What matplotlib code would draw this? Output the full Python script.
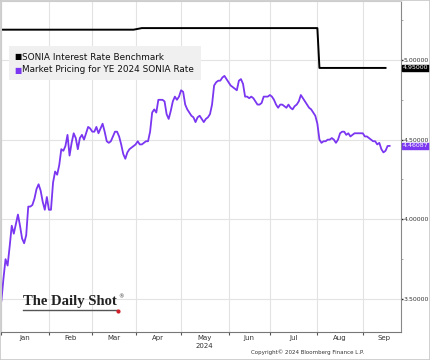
import numpy as np
import pandas as pd
import matplotlib.pyplot as plt
import matplotlib.transforms as mtransforms
from matplotlib.patches import Rectangle

# market pricing for YE 2024 SONIA, one value per weekday from 2 Jan 2024
pricing_start = '2024-01-01'
pricing_ye2024 = [
    3.49, 3.63, 3.75, 3.71, 3.83, 3.96, 3.91, 3.97, 4.03, 3.96,
    3.88, 3.85, 3.90, 4.08, 4.08, 4.09, 4.13, 4.19, 4.22, 4.18,
    4.11, 4.06, 4.14, 4.06, 4.06, 4.23, 4.30, 4.28, 4.34, 4.44,
    4.43, 4.46, 4.53, 4.40, 4.48, 4.54, 4.51, 4.44, 4.51, 4.53,
    4.50, 4.54, 4.58, 4.57, 4.55, 4.55, 4.58, 4.54, 4.57, 4.60,
    4.55, 4.49, 4.48, 4.49, 4.52, 4.55, 4.55, 4.52, 4.47, 4.41,
    4.38, 4.42, 4.44, 4.45, 4.46, 4.47, 4.49, 4.47, 4.47, 4.48,
    4.49, 4.49, 4.55, 4.67, 4.69, 4.67, 4.75, 4.75, 4.75, 4.74,
    4.66, 4.63, 4.68, 4.74, 4.77, 4.75, 4.77, 4.81, 4.80, 4.72,
    4.69, 4.67, 4.65, 4.64, 4.61, 4.64, 4.65, 4.63, 4.61, 4.63,
    4.64, 4.66, 4.72, 4.84, 4.86, 4.87, 4.87, 4.89, 4.90, 4.88,
    4.86, 4.84, 4.83, 4.82, 4.81, 4.87, 4.88, 4.85, 4.77, 4.77,
    4.76, 4.77, 4.76, 4.74, 4.72, 4.72, 4.73, 4.77, 4.77, 4.77,
    4.78, 4.77, 4.75, 4.72, 4.70, 4.72, 4.72, 4.71, 4.70, 4.72,
    4.70, 4.69, 4.71, 4.72, 4.74, 4.78, 4.76, 4.74, 4.72, 4.70,
    4.69, 4.67, 4.65, 4.60, 4.50, 4.48, 4.49, 4.49, 4.50, 4.50,
    4.51, 4.50, 4.48, 4.50, 4.54, 4.55, 4.55, 4.53, 4.54, 4.52,
    4.53, 4.54, 4.54, 4.54, 4.54, 4.54, 4.52, 4.52, 4.51, 4.50,
    4.49, 4.49, 4.47, 4.48, 4.44, 4.42, 4.43, 4.46, 4.46087,
]

# SONIA benchmark, step changes
sonia_dates = ['2024-01-01', '2024-03-29', '2024-04-04', '2024-08-01', '2024-08-02', '2024-09-17']
sonia_values = [5.19, 5.19, 5.20, 5.20, 4.95, 4.95]

months = ['Jan', 'Feb', 'Mar', 'Apr', 'May', 'Jun', 'Jul', 'Aug', 'Sep']
month_starts = ['2024-01-01', '2024-02-01', '2024-03-01', '2024-04-01', '2024-05-01',
                '2024-06-03', '2024-07-01', '2024-08-01', '2024-09-02', '2024-10-01']
y_ticks = [3.5, 4.0, 4.5, 5.0]

purple = '#7a36f0'

def bday_pos(dates):
    d = np.array(pd.to_datetime(dates).values, dtype='datetime64[D]')
    return np.busday_count(np.datetime64(pricing_start), d)

price_days = pd.bdate_range(pricing_start, periods=len(pricing_ye2024))
px = bday_pos(price_days)
sx = bday_pos(sonia_dates)
mx = bday_pos(month_starts)

fig = plt.figure(figsize=(4.3, 3.6), dpi=100)
ax = fig.add_axes([1 / 430, 28 / 360, 400 / 430, 331 / 360])

ax.plot(sx, sonia_values, color='black', linewidth=1.4)
ax.plot(px, pricing_ye2024, color=purple, linewidth=1.3)

ax.set_xlim(-0.2, 193.5)
ax.set_ylim(3.293, 5.370)

# month boundaries as ticks and grid, names in the middle
ax.set_xticks(mx[:-1])
ax.set_xticklabels([])
ax.set_xticks((mx[:-1] + mx[1:]) / 2, minor=True)
ax.set_xticklabels(months, minor=True, fontsize=5, color='#333333')
ax.tick_params(axis='x', which='major', length=2.5, width=0.8, color='#555555')
ax.tick_params(axis='x', which='minor', length=0, pad=2)
ax.grid(True, axis='x', which='major', color='#e3e3e3', linewidth=0.8)

ax.yaxis.tick_right()
ax.set_yticks(y_ticks)
ax.set_yticklabels([f'{v:.5f}' for v in y_ticks], fontsize=4.5, color='#333333')
ax.set_yticks(np.arange(3.75, 5.3, 0.5), minor=True)
ax.tick_params(axis='y', which='major', length=1.5, width=1.0, color='#222222', pad=0.5)
ax.tick_params(axis='y', which='minor', length=1.2, width=0.6, color='#999999')
ax.grid(True, axis='y', which='major', color='#e3e3e3', linewidth=0.8)
ax.set_axisbelow(True)

for side in ['left', 'top']:
    ax.spines[side].set_color('#cccccc')
    ax.spines[side].set_linewidth(0.8)
ax.spines['right'].set_color('#888888')
ax.spines['bottom'].set_color('#777777')

xa = mtransforms.blended_transform_factory(ax.transData, ax.transAxes)
ax.text((mx[4] + mx[5]) / 2, -14 / 331, '2024', transform=xa, fontsize=5, color='#333333',
        ha='center', va='center')

# last value labels
ax.annotate(f'{sonia_values[-1]:.5f}', xy=(1.0, sonia_values[-1]), xycoords=('axes fraction', 'data'),
            xytext=(1.2, 0), textcoords='offset points', fontsize=4.5, color='white', va='center',
            bbox=dict(boxstyle='square,pad=0.12', fc='black', ec='black'))
ax.annotate(f'{pricing_ye2024[-1]:.5f}', xy=(1.0, pricing_ye2024[-1]), xycoords=('axes fraction', 'data'),
            xytext=(1.2, 0), textcoords='offset points', fontsize=4.5, color='white', va='center',
            bbox=dict(boxstyle='square,pad=0.12', fc=purple, ec=purple))

# legend box
ax.add_patch(Rectangle((8 / 400, 1 - 79 / 331), 192 / 400, 34 / 331, transform=ax.transAxes,
                       facecolor='#f0f0f0', edgecolor='none', zorder=3))
ax.text(13 / 400, 1 - 56 / 331, '■', color='black', fontsize=5.5, transform=ax.transAxes,
        va='center', zorder=4)
ax.text(21 / 400, 1 - 56 / 331, 'SONIA Interest Rate Benchmark', color='#111111', fontsize=6.4,
        transform=ax.transAxes, va='center', zorder=4)
ax.text(13 / 400, 1 - 69 / 331, '■', color=purple, fontsize=5.5, transform=ax.transAxes,
        va='center', zorder=4)
ax.text(21 / 400, 1 - 69 / 331, 'Market Pricing for YE 2024 SONIA Rate', color='#111111', fontsize=6.4,
        transform=ax.transAxes, va='center', zorder=4)

# logo
ax.text(22 / 400, 1 - 304 / 331, 'The Daily Shot', family='Liberation Serif', fontsize=10.5,
        fontweight='bold', color='#222222', transform=ax.transAxes, va='baseline', zorder=4)
ax.plot([22 / 400, 116 / 400], [1 - 308.5 / 331] * 2, color='#555555', linewidth=1.0,
        transform=ax.transAxes, zorder=4)
ax.plot([117 / 400], [1 - 309.5 / 331], marker='o', markersize=2, color='#d0202a',
        transform=ax.transAxes, zorder=4)
ax.text(117 / 400, 1 - 296 / 331, '®', fontsize=4, color='#333333', transform=ax.transAxes,
        va='center', zorder=4)

fig.text(308 / 430, 1 - 352 / 360, 'Copyright© 2024 Bloomberg Finance L.P.', fontsize=4,
         color='#333333', ha='center', va='center')

fig.patches.append(Rectangle((0, 0), 1, 1, transform=fig.transFigure, fill=False,
                             edgecolor='#c8c8c8', linewidth=1.2))

fig.savefig('out.png', dpi=100)
